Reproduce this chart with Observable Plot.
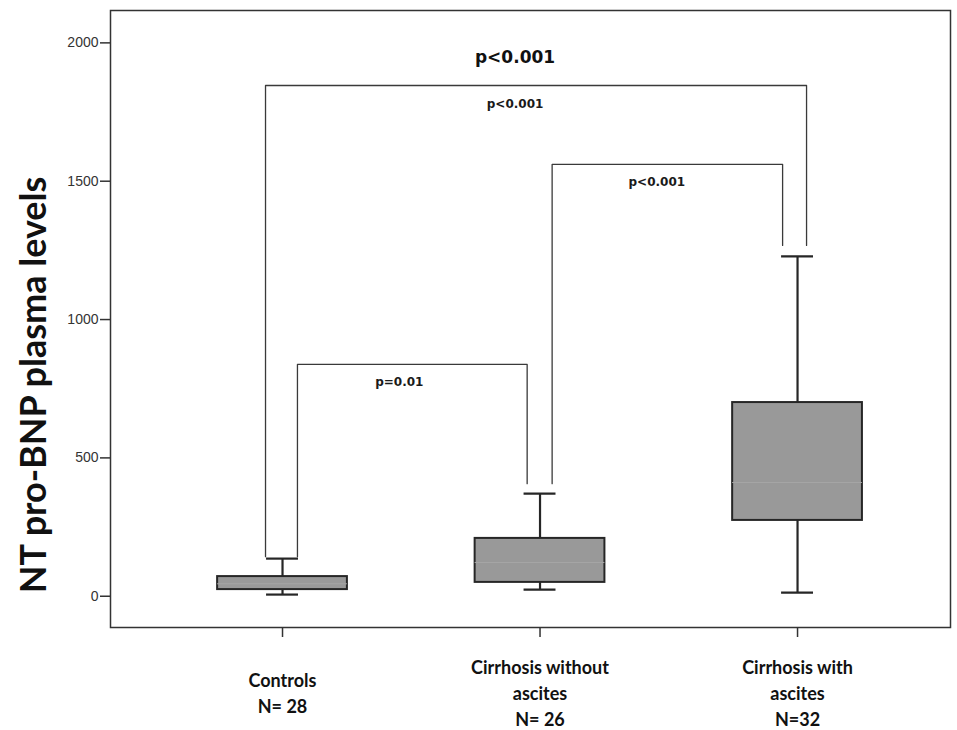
<!DOCTYPE html>
<html>
<head>
<meta charset="utf-8">
<script src="https://cdn.jsdelivr.net/npm/d3@7"></script>
<script src="https://cdn.jsdelivr.net/npm/@observablehq/plot@0.6"></script>
<style>
  html, body { margin: 0; padding: 0; background: #ffffff; }
</style>
</head>
<body>
<div id="chart"></div>
<script>
// ---- data ----
const categories = ["Controls", "Cirrhosis without\nascites", "Cirrhosis with\nascites"];
const groupN = ["N= 28", "N= 26", "N=32"];
const whiskerLow = [6, 24, 13];
const quartile1 = [24, 50, 274];
const medians = [45, 122, 411];
const quartile3 = [71, 209, 700];
const whiskerHigh = [136, 371, 1228];
const yTicks = [0, 500, 1000, 1500, 2000];

// significance brackets
const bracketFrom = [0, 1, 0];
const bracketTo = [1, 2, 2];
const bracketLevel = [838, 1561, 1846];
const bracketLegLow = [143, 407, 143];   // bottom of left leg
const bracketLegHigh = [407, 1268, 1268]; // bottom of right leg
const bracketLabel = ["p=0.01", "p<0.001", "p<0.001"];
const overallLabel = "p<0.001";
const yTitle = "NT pro-BNP plasma levels";

// ---- layout constants (not data) ----
const legOffsets = [[0.058, -0.05], [0.047, -0.058], [-0.066, 0.035]];
const boxHalf = 0.252;
const capHalf = 0.062;

const idx = categories.map((_, i) => i);
const boxes = idx.map(i => ({
  i, low: whiskerLow[i], q1: quartile1[i], med: medians[i], q3: quartile3[i], high: whiskerHigh[i],
  label: categories[i] + "\n" + groupN[i]
}));
const bracketPts = [];
bracketFrom.forEach((f, k) => {
  const t = bracketTo[k];
  const [oL, oR] = legOffsets[k];
  bracketPts.push({k, x: f + oL, y: bracketLegLow[k]});
  bracketPts.push({k, x: f + oL, y: bracketLevel[k]});
  bracketPts.push({k, x: t + oR, y: bracketLevel[k]});
  bracketPts.push({k, x: t + oR, y: bracketLegHigh[k]});
});
const bracketText = bracketFrom.map((f, k) => ({
  x: (f + bracketTo[k]) / 2, y: bracketLevel[k], text: bracketLabel[k]
}));

const stroke = "#262626";
const labelFont = "Lato, 'Open Sans', sans-serif";
const pFont = "'DejaVu Sans', Verdana, sans-serif";

const chart = Plot.plot({
  width: 957,
  height: 730,
  marginLeft: 110,
  marginRight: 7,
  marginTop: 10,
  marginBottom: 103,
  style: {background: "#ffffff", color: "#333"},
  x: {type: "linear", domain: [-0.668, 2.594]},
  y: {domain: [-113, 2117]},
  marks: [
    Plot.frame({stroke: "#333", strokeWidth: 1.5}),
    Plot.axisY({ticks: yTicks, tickFormat: d => String(d), tickSize: 10, tickPadding: 2, label: null,
      fontSize: 14, fontFamily: "'Liberation Sans', Arial, sans-serif", fill: "#333", stroke: "#333", strokeWidth: 1.5}),
    Plot.axisX({ticks: idx, tickSize: 10, tickFormat: () => "", label: null, stroke: "#333", strokeWidth: 1.5}),
    // brackets
    Plot.line(bracketPts, {x: "x", y: "y", z: "k", stroke: "#3a3a3a", strokeWidth: 1.3, curve: "linear"}),
    Plot.text(bracketText.slice(0, 2), {x: "x", y: "y", text: "text", dy: 18, dx: -12,
      fontSize: 12, fontWeight: "bold", fontFamily: pFont, fill: "#1a1a1a"}),
    Plot.text([bracketText[2]], {x: "x", y: "y", text: "text", dy: 19, dx: -25,
      fontSize: 12, fontWeight: "bold", fontFamily: pFont, fill: "#1a1a1a"}),
    Plot.text([bracketText[2]], {x: "x", y: "y", text: () => overallLabel, dy: -28, dx: -25,
      fontSize: 17, fontWeight: "bold", fontFamily: pFont, fill: "#111"}),
    // box plots
    Plot.ruleX(boxes, {x: "i", y1: "low", y2: "high", stroke, strokeWidth: 2.2}),
    Plot.rect(boxes, {x1: d => d.i - boxHalf, x2: d => d.i + boxHalf, y1: "q1", y2: "q3",
      fill: "#999999", stroke, strokeWidth: 2}),
    Plot.ruleY(boxes, {y: "med", x1: d => d.i - boxHalf, x2: d => d.i + boxHalf, stroke: "#a6a6a6", strokeWidth: 1}),
    Plot.ruleY(boxes, {y: "low", x1: d => d.i - capHalf, x2: d => d.i + capHalf, stroke, strokeWidth: 2.2}),
    Plot.ruleY(boxes, {y: "high", x1: d => d.i - capHalf, x2: d => d.i + capHalf, stroke, strokeWidth: 2.2}),
    // category labels
    Plot.text(boxes, {x: "i", text: "label", frameAnchor: "bottom", dy: 64, lineAnchor: "middle",
      lineHeight: 1.47, fontSize: 18, fontWeight: "bold", fontFamily: labelFont, fill: "#111"}),
    // y title
    Plot.text([yTitle], {frameAnchor: "left", textAnchor: "middle", dx: -76, dy: 66, rotate: -90,
      fontSize: 36, fontWeight: "bold", fontFamily: labelFont, fill: "#111"})
  ]
});
document.getElementById("chart").append(chart);
</script>
</body>
</html>
